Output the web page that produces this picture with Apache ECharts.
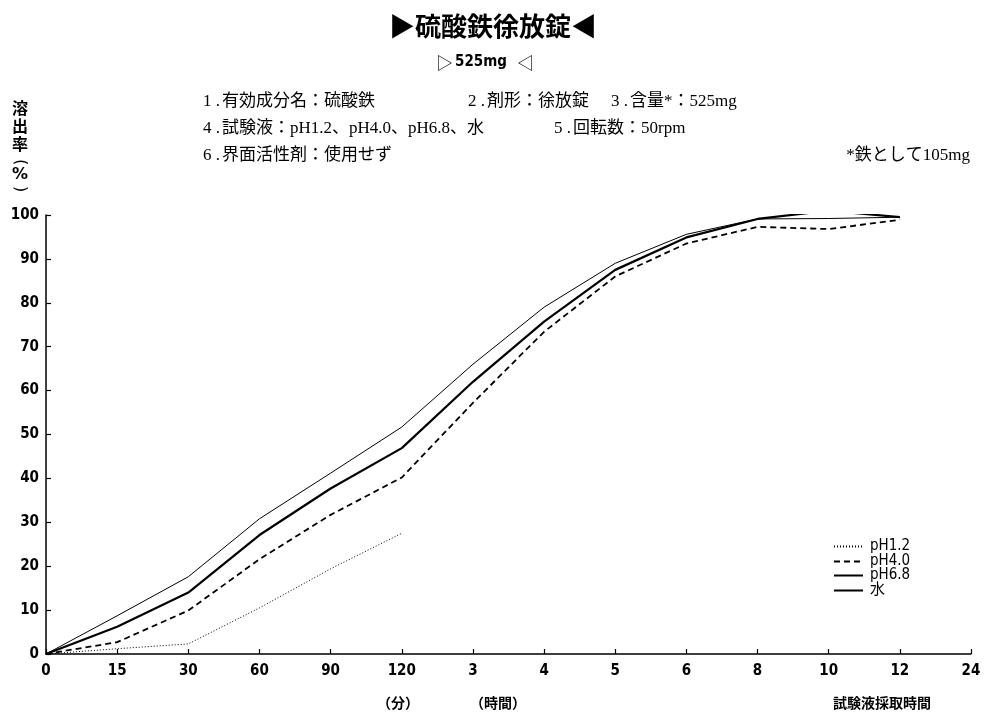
<!DOCTYPE html>
<html><head><meta charset="utf-8">
<script src="https://cdn.jsdelivr.net/npm/echarts@6/dist/echarts.min.js"></script>
<style>html,body{margin:0;padding:0;background:#fff}#c{width:986px;height:714px}</style>
</head><body><div id="c"></div>
<script>
const categories = ['0','15','30','60','90','120','3','4','5','6','8','10','12','24'];
const seriesNames = ['pH1.2','pH4.0','pH6.8','水'];
const ph12 = [0, 1.2, 2.3, 10.5, 19.4, 27.5];
const ph40 = [0, 2.7, 9.9, 21.6, 31.7, 40.2, 57.2, 73.4, 86.0, 93.5, 97.3, 96.8, 98.9];
const ph68 = [0, 8.7, 17.6, 30.8, 41.2, 51.7, 66.0, 79.0, 89.0, 95.6, 99.1, 99.2, 99.5];
const water = [0, 6.2, 14.0, 27.1, 37.7, 46.9, 62.0, 75.7, 87.5, 94.9, 99.1, 101.0, 99.5];
const yTicks = [0,10,20,30,40,50,60,70,80,90,100];

const tickFont = {fontFamily:'"Liberation Sans Narrow","DejaVu Sans Condensed","Liberation Sans",sans-serif', fontWeight:'bold', fontSize:15, color:'#000'};
const jp = '"Noto Sans CJK JP",sans-serif';
const info = '"Liberation Serif","Noto Sans CJK JP",serif';
const infoFont = '17px ' + info;

const legendRowsTop = [539, 554, 568, 583];
const legends = seriesNames.map((n, i) => ({
  orient:'vertical', left:833, top:legendRowsTop[i], padding:0,
  itemWidth:29, itemHeight:12, data:[n], itemStyle:{opacity:0},
  textStyle:{fontFamily:'"DejaVu Sans Condensed","DejaVu Sans","Noto Sans CJK JP",sans-serif',fontSize:15,color:'#000',padding:[0,0,0,2]}
}));

function infoItem(num, text, x, y) {
  return [
    {type:'text',x:x,y:y,style:{text:num+' .',font:infoFont,fill:'#000'}},
    {type:'text',x:x+19,y:y,style:{text:text,font:infoFont,fill:'#000'}}
  ];
}

const chart = echarts.init(document.getElementById('c'));
chart.setOption({
  animation:false,
  backgroundColor:'#fff',
  color:['#000','#000','#000','#000'],
  grid:{left:46,right:15,top:215,bottom:60,containLabel:false},
  xAxis:{type:'category',data:categories,boundaryGap:false,
    axisLine:{lineStyle:{color:'#000',width:1.5}},
    axisTick:{inside:true,length:5,lineStyle:{color:'#000',width:1.2},alignWithLabel:true},
    axisLabel:Object.assign({margin:10,interval:0},tickFont),
    splitLine:{show:false}},
  yAxis:{type:'value',min:0,max:100,interval:10,
    axisLine:{show:true,lineStyle:{color:'#000',width:1.5}},
    axisTick:{show:true,inside:true,length:5,lineStyle:{color:'#000',width:1.2}},
    axisLabel:Object.assign({margin:7,formatter:v=>yTicks.includes(v)?String(v):''},tickFont),
    splitLine:{show:false}},
  legend:legends,
  series:[
    {name:'pH1.2',type:'line',data:ph12,symbol:'none',itemStyle:{color:'#000'},lineStyle:{color:'#000',width:1,type:[1,2]}},
    {name:'pH4.0',type:'line',data:ph40,symbol:'none',itemStyle:{color:'#000'},lineStyle:{color:'#000',width:1.8,type:[6,4]}},
    {name:'pH6.8',type:'line',data:ph68,symbol:'none',itemStyle:{color:'#000'},lineStyle:{color:'#000',width:1}},
    {name:'水',type:'line',data:water,symbol:'none',itemStyle:{color:'#000'},lineStyle:{color:'#000',width:2.2}}
  ],
  graphic:[
    {type:'text',left:'center',top:13,style:{text:'▶硫酸鉄徐放錠◀',font:'bold 26px '+jp,fill:'#000'}},
    {type:'text',x:436,y:54,style:{text:'▷',font:'17px '+jp,fill:'#000'}},
    {type:'text',x:455,y:55,style:{text:'525mg',font:'bold 15px "Liberation Sans Narrow","DejaVu Sans Condensed",sans-serif',fill:'#000'}},
    {type:'text',x:517,y:54,style:{text:'◁',font:'17px '+jp,fill:'#000'}},
    ...infoItem('1','有効成分名：硫酸鉄',203,93),
    ...infoItem('2','剤形：徐放錠',468,93),
    ...infoItem('3','含量*：525mg',611,93),
    ...infoItem('4','試験液：pH1.2、pH4.0、pH6.8、水',203,120),
    ...infoItem('5','回転数：50rpm',554,120),
    ...infoItem('6','界面活性剤：使用せず',203,147),
    {type:'text',x:970,y:147,style:{text:'*鉄として105mg',font:infoFont,fill:'#000',textAlign:'right'}},
    {type:'text',x:20,y:99,style:{text:'溶\n出\n率',font:'bold 16px '+jp,fill:'#000',lineHeight:18,textAlign:'center'}},
    {type:'text',x:20,y:162,rotation:-Math.PI/2,style:{text:'(',font:'16px "DejaVu Sans",sans-serif',fill:'#000',textAlign:'center',textVerticalAlign:'middle'}},
    {type:'text',x:20,y:175,style:{text:'%',font:'bold 16px "DejaVu Sans",sans-serif',fill:'#000',textAlign:'center',textVerticalAlign:'middle'}},
    {type:'text',x:20,y:189,rotation:-Math.PI/2,style:{text:')',font:'16px "DejaVu Sans",sans-serif',fill:'#000',textAlign:'center',textVerticalAlign:'middle'}},
    {type:'text',x:398,y:703,style:{text:'（分）',font:'bold 14px '+jp,fill:'#000',textAlign:'center',textVerticalAlign:'middle'}},
    {type:'text',x:498,y:703,style:{text:'（時間）',font:'bold 14px '+jp,fill:'#000',textAlign:'center',textVerticalAlign:'middle'}},
    {type:'text',x:882,y:703,style:{text:'試験液採取時間',font:'bold 14px '+jp,fill:'#000',textAlign:'center',textVerticalAlign:'middle'}}
  ]
});
</script></body></html>
